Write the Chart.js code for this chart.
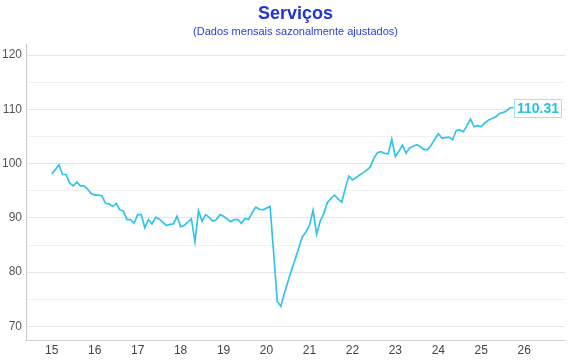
<!DOCTYPE html>
<html>
<head>
<meta charset="utf-8">
<script src="https://cdn.jsdelivr.net/npm/chart.js@4/dist/chart.umd.min.js"></script>
<style>
html,body{margin:0;padding:0;background:#fff;}
#wrap{width:570px;height:360px;}
</style>
</head>
<body>
<div id="wrap"><canvas id="c" width="570" height="360"></canvas></div>
<script>
const titleText = 'Serviços';
const subtitleText = '(Dados mensais sazonalmente ajustados)';
const firstYear = 2015;
const yearTickLabels = ['15','16','17','18','19','20','21','22','23','24','25','26'];
const yTickValues = [70,75,80,85,90,95,100,105,110,115,120];
// Monthly index values, Jan 2015 .. Oct 2025
const values2015 = [98.1, 98.9, 99.8, 98.0, 98.0, 96.4, 95.9, 96.6, 95.9, 95.9, 95.3, 94.5];
const values2016 = [94.2, 94.2, 94.1, 92.7, 92.6, 92.1, 92.7, 91.5, 91.3, 89.7, 89.7, 89.0];
const values2017 = [90.6, 90.6, 88.2, 89.7, 88.9, 90.1, 89.8, 89.2, 88.6, 88.8, 88.9, 90.3];
const values2018 = [88.4, 88.6, 89.2, 89.8, 85.6, 91.3, 89.4, 90.6, 90.1, 89.4, 89.7, 90.6];
const values2019 = [90.3, 89.8, 89.3, 89.7, 89.7, 89.0, 89.9, 89.7, 91.0, 92.0, 91.6, 91.5];
const values2020 = [91.8, 92.1, 83.5, 74.6, 73.7, 76.1, 78.3, 80.4, 82.4, 84.4, 86.5, 87.4];
const values2021 = [88.6, 91.4, 87.0, 89.4, 90.8, 92.8, 93.6, 94.2, 93.5, 92.9, 95.4, 97.7];
const values2022 = [97.0, 97.4, 97.9, 98.3, 98.8, 99.4, 101.0, 102.0, 102.2, 101.9, 101.8, 104.5];
const values2023 = [101.3, 102.3, 103.4, 101.9, 102.9, 103.2, 103.5, 103.1, 102.6, 102.6, 103.4, 104.5];
const values2024 = [105.5, 104.7, 104.8, 104.9, 104.4, 106.1, 106.2, 105.9, 107.0, 108.2, 106.8, 107.0];
const values2025 = [106.8, 107.5, 108.0, 108.3, 108.6, 109.2, 109.4, 109.7, 110.3, 110.31];

const seriesValues = [].concat(values2015, values2016, values2017, values2018, values2019,
  values2020, values2021, values2022, values2023, values2024, values2025);
const points = seriesValues.map((v, i) => ({x: i, y: v}));

const lineColor = '#33c3ec';

const lastValueLabel = {
  id: 'lastValueLabel',
  afterDatasetsDraw(chart) {
    const meta = chart.getDatasetMeta(0);
    const el = meta.data[meta.data.length - 1];
    const v = seriesValues[seriesValues.length - 1];
    const ctx = chart.ctx;
    const txt = v.toFixed(2);
    ctx.save();
    ctx.font = 'bold 14px "Liberation Sans", Arial, sans-serif';
    const w = Math.round(ctx.measureText(txt).width + 5);
    const h = 18;
    const x0 = Math.round(el.x + 1), y0 = Math.round(el.y - h / 2);
    ctx.fillStyle = '#ffffff';
    ctx.fillRect(x0, y0, w, h);
    ctx.strokeStyle = '#a3e2f5';
    ctx.lineWidth = 1;
    ctx.strokeRect(x0 + 0.5, y0 + 0.5, w, h);
    ctx.fillStyle = '#2bbde6';
    ctx.textBaseline = 'middle';
    ctx.textAlign = 'left';
    ctx.fillText(txt, x0 + 3, y0 + h / 2 + 1.5);
    ctx.restore();
  }
};

new Chart(document.getElementById('c'), {
  type: 'line',
  data: {
    datasets: [{
      data: points,
      borderColor: lineColor,
      backgroundColor: lineColor,
      borderWidth: 1.7,
      pointRadius: 0,
      tension: 0,
      fill: false
    }]
  },
  options: {
    responsive: false,
    animation: false,
    devicePixelRatio: 1,
    layout: {padding: {left: 0, right: 5, top: 0, bottom: 0}},
    plugins: {
      legend: {display: false},
      tooltip: {enabled: false},
      title: {
        display: true,
        text: titleText,
        fullSize: false,
        color: '#2035d4',
        font: {family: '"Liberation Sans", Arial, sans-serif', size: 18, weight: 'bold'},
        padding: {top: 3, bottom: 0}
      },
      subtitle: {
        display: true,
        text: subtitleText,
        fullSize: false,
        color: '#2b40da',
        font: {family: '"Liberation Sans", Arial, sans-serif', size: 11},
        padding: {top: 1, bottom: 6}
      }
    },
    scales: {
      x: {
        type: 'linear',
        min: -7.2,
        max: 143.4,
        afterBuildTicks(scale) {
          scale.ticks = yearTickLabels.map((_, i) => ({value: i * 12}));
        },
        afterFit(scale) { scale.height = 20; },
        ticks: {
          autoSkip: false,
          maxRotation: 0,
          color: '#444',
          padding: 3,
          font: {family: '"Liberation Sans", Arial, sans-serif', size: 12},
          callback: (v) => yearTickLabels[Math.round(v / 12)]
        },
        grid: {display: false, drawTicks: false},
        border: {display: true, color: '#d4d4d4', width: 1}
      },
      y: {
        type: 'linear',
        min: 67.5,
        max: 121.9,
        afterBuildTicks(scale) {
          scale.ticks = yTickValues.map(v => ({value: v}));
        },
        afterFit(scale) { scale.width = 26; },
        ticks: {
          color: '#555',
          padding: 4,
          font: {family: '"Liberation Sans", Arial, sans-serif', size: 12},
          callback: (v) => (v % 10 === 0 ? String(v) : '')
        },
        grid: {
          drawTicks: false,
          color: (ctx) => (ctx.tick && ctx.tick.value % 10 === 0 ? '#e6e6e6' : '#f1f1f1'),
          lineWidth: 1
        },
        border: {display: true, color: '#c8c8c8', width: 1}
      }
    }
  },
  plugins: [lastValueLabel]
});
</script>
</body>
</html>
